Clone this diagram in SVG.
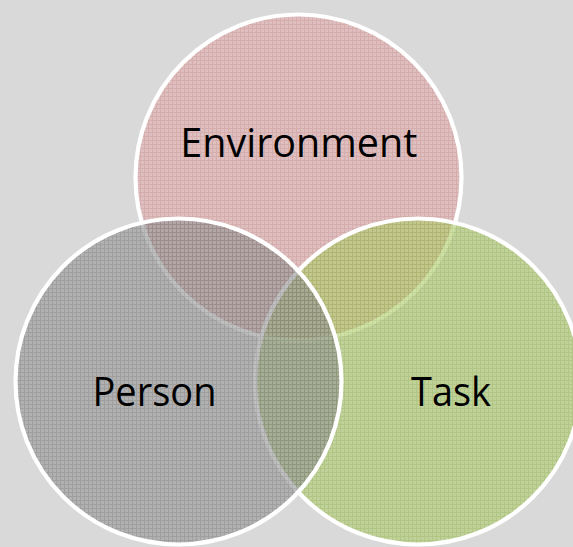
<svg xmlns="http://www.w3.org/2000/svg" width="573" height="547" viewBox="0 0 573 547">
  <style>
    .ring { stroke: #ffffff; stroke-width: 4.2; fill-opacity: 0.6; }
    .label { font-family: "Open Sans", "Noto Sans", "Liberation Sans", sans-serif; font-size: 40px; fill: #000000; text-anchor: middle; }
  </style>
  <defs>
    <pattern id="gridEnv" width="4" height="4" patternUnits="userSpaceOnUse">
      <rect width="4" height="4" fill="#e2acac"/>
      <path d="M0 0.5H4M0.5 0V4" stroke="#d38f8f" stroke-width="1"/>
    </pattern>
    <pattern id="gridPer" width="4" height="4" patternUnits="userSpaceOnUse">
      <rect width="4" height="4" fill="#969696"/>
      <path d="M0 0.5H4M0.5 0V4" stroke="#787878" stroke-width="1"/>
    </pattern>
    <pattern id="gridTask" width="4" height="4" patternUnits="userSpaceOnUse">
      <rect width="4" height="4" fill="#b0cd6e"/>
      <path d="M0 0.5H4M0.5 0V4" stroke="#97ba4c" stroke-width="1"/>
    </pattern>
  </defs>
  <rect width="573" height="547" fill="#d9d9d9"/>
  <g id="environment">
    <circle class="ring" cx="298.5" cy="177.5" r="163" fill="url(#gridEnv)"/>
    <text class="label" x="298.8" y="157" textLength="237" lengthAdjust="spacingAndGlyphs">Environment</text>
  </g>
  <g id="task">
    <circle class="ring" cx="418" cy="381.5" r="163" fill="url(#gridTask)"/>
    <text class="label" x="451" y="405.7" textLength="80" lengthAdjust="spacingAndGlyphs">Task</text>
  </g>
  <g id="person">
    <circle class="ring" cx="178.5" cy="381.5" r="163" fill="url(#gridPer)"/>
    <text class="label" x="154.5" y="405.7" textLength="124" lengthAdjust="spacingAndGlyphs">Person</text>
  </g>
</svg>
